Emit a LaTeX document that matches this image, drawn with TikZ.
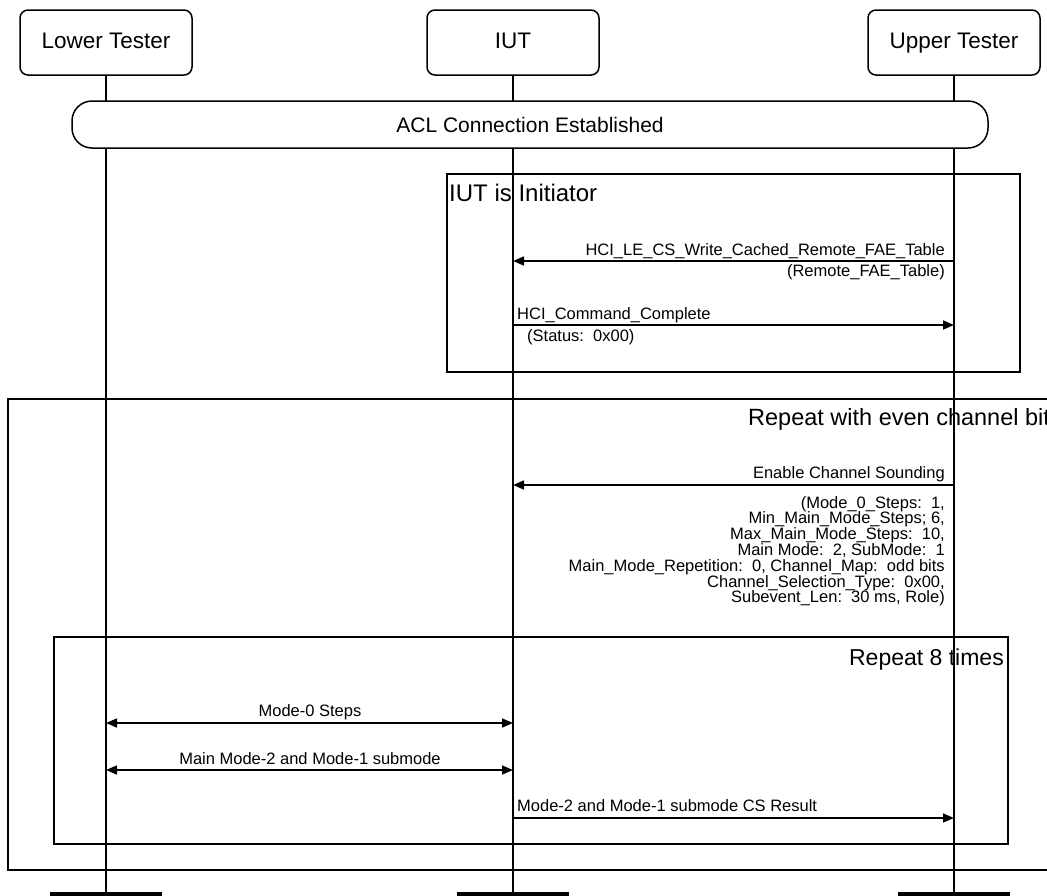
\documentclass[tikz,border=0pt]{standalone}
\usepackage{fontspec}
\setmainfont{Liberation Sans}
\usetikzlibrary{arrows.meta}
\begin{document}
\begin{tikzpicture}[x=1pt,y=-1pt,
  actor/.style={draw, line width=1.5pt, rounded corners=8pt, minimum width=172pt,
    minimum height=65pt, inner sep=0pt, text height=16pt, text depth=5pt,
    font=\fontsize{22.5}{26}\selectfont},
  life/.style={line width=1.4pt},
  tip/.tip={Triangle[length=11pt,width=9pt]},
  msg/.style={line width=1.6pt, -tip},
  dmsg/.style={line width=1.6pt, tip-tip},
  frame/.style={draw, line width=1.5pt},
  lbl/.style={font=\fontsize{16.5}{15.8}\selectfont, inner sep=0pt},
  ttl/.style={font=\fontsize{23.5}{28}\selectfont, inner sep=0pt},
  endbar/.style={fill=black, draw=none, minimum width=112pt, minimum height=8pt, inner sep=0pt}
]
\useasboundingbox (0,0) rectangle (1047,895);

% participants
\node[actor] (lt)  at (106,42.5) {Lower Tester};
\node[actor] (iut) at (513,42.5) {IUT};
\node[actor] (ut)  at (954,42.5) {Upper Tester};

% end markers of the lifelines
\node[endbar] (ltend)  at (106,896) {};
\node[endbar] (iutend) at (513,896) {};
\node[endbar] (utend)  at (954,896) {};

% lifelines
\draw[life] (lt.south)  -- (ltend.center);
\draw[life] (iut.south) -- (iutend.center);
\draw[life] (ut.south)  -- (utend.center);

% shared state
\node[draw, line width=1.5pt, fill=white, rounded corners=20pt, minimum width=916pt,
  minimum height=47pt, font=\fontsize{21}{24}\selectfont] (acl) at (530,124.5)
  {ACL Connection Established};

% optional frame
\draw[frame] (447,174) rectangle (1020,372);
\node[ttl, font=\fontsize{24}{28}\selectfont, anchor=base west] (initttl) at (449,201) {IUT is Initiator};

\coordinate (a1s) at (ut.center |- 0,261);
\coordinate (a1e) at (iut.center |- 0,261);
\draw[msg] (a1s) -- (a1e);
\node[lbl, anchor=base east] (a1l) at (945,255) {HCI\_LE\_CS\_Write\_Cached\_Remote\_FAE\_Table};
\node[lbl, anchor=base east] (a1p) at (945,276) {(Remote\_FAE\_Table)};

\coordinate (a2s) at (iut.center |- 0,325);
\coordinate (a2e) at (ut.center |- 0,325);
\draw[msg] (a2s) -- (a2e);
\node[lbl, anchor=base west] (a2l) at (517,319) {HCI\_Command\_Complete};
\node[lbl, anchor=base west] (a2p) at (527,341) {(Status:\ \ 0x00)};

% outer loop (runs past the right edge)
\draw[frame] (1060,399) -- (8,399) -- (8,870) -- (1060,870);
\node[ttl, anchor=base west] (eventtl) at (748,425) {Repeat with even channel bit};

\coordinate (a3s) at (ut.center |- 0,485);
\coordinate (a3e) at (iut.center |- 0,485);
\draw[msg] (a3s) -- (a3e);
\node[lbl, anchor=base east] (a3l) at (945,478) {Enable Channel Sounding};
\node[lbl, anchor=north east, align=right] (a3p) at (945,496)
  {(Mode\_0\_Steps:\ \ 1,\\
   Min\_Main\_Mode\_Steps; 6,\\
   Max\_Main\_Mode\_Steps:\ \ 10,\\
   Main Mode:\ \ 2, SubMode:\ \ 1\\
   Main\_Mode\_Repetition:\ \ 0, Channel\_Map:\ \ odd bits\\
   Channel\_Selection\_Type:\ \ 0x00,\\
   Subevent\_Len:\ \ 30 ms, Role)};

% inner loop
\draw[frame] (54,637) rectangle (1008,844);
\node[ttl, font=\fontsize{23}{28}\selectfont, anchor=base east] (rep8ttl) at (1004,665) {Repeat 8 times};

\coordinate (b1s) at (lt.center |- 0,723);
\coordinate (b1e) at (iut.center |- 0,723);
\draw[dmsg] (b1s) -- (b1e);
\node[lbl, anchor=base] (b1l) at (310,716) {Mode-0 Steps};

\coordinate (b2s) at (lt.center |- 0,770);
\coordinate (b2e) at (iut.center |- 0,770);
\draw[dmsg] (b2s) -- (b2e);
\node[lbl, anchor=base] (b2l) at (310,764) {Main Mode-2 and Mode-1 submode};

\coordinate (b3s) at (iut.center |- 0,818);
\coordinate (b3e) at (ut.center |- 0,818);
\draw[msg] (b3s) -- (b3e);
\node[lbl, anchor=base west] (b3l) at (517,811) {Mode-2 and Mode-1 submode CS Result};
\end{tikzpicture}
\end{document}
